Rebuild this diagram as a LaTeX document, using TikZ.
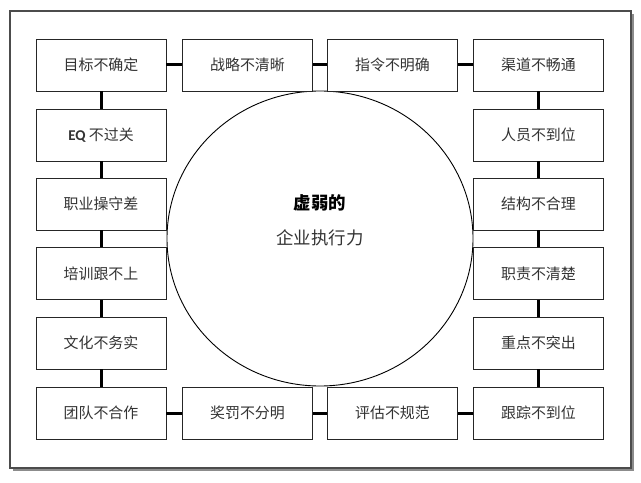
\documentclass[tikz,border=0pt]{standalone}
\usepackage{fontspec}
\newfontfamily\cjk{Noto Sans CJK SC}
\setsansfont{Carlito}
\begin{document}
\begin{tikzpicture}[x=1bp,y=-1bp,
  cell/.style={draw=black!85,line width=0.8bp,fill=white,minimum width=130bp,minimum height=52bp,inner sep=0pt,font=\cjk\fontsize{15}{18}\selectfont,text=black!80},
  link/.style={line width=3bp,black}]
\useasboundingbox (0,0) rectangle (641,483);
\fill[white] (0,0) rectangle (641,483);
% frame with shadow
\draw[black!45,line width=2.5bp] (13,470) -- (633,470) -- (633,14);
\draw[black!70,line width=1.3bp] (10,11) rectangle (631,468);
% center ellipse
\draw[line width=0.9bp] (320,238.5) ellipse [x radius=153, y radius=147.5];
% cells
\node[cell] (a1) at (101,65) {目标不确定};
\node[cell] (a2) at (247.5,65) {战略不清晰};
\node[cell] (a3) at (392.5,65) {指令不明确};
\node[cell] (a4) at (538.5,65) {渠道不畅通};
\node[cell] (l2) at (101,135) {{\sffamily\bfseries EQ} 不过关};
\node[cell] (l3) at (101,204) {职业操守差};
\node[cell] (l4) at (101,273.5) {培训跟不上};
\node[cell] (l5) at (101,343) {文化不务实};
\node[cell] (r2) at (538.5,135) {人员不到位};
\node[cell] (r3) at (538.5,204) {结构不合理};
\node[cell] (r4) at (538.5,273.5) {职责不清楚};
\node[cell] (r5) at (538.5,343) {重点不突出};
\node[cell] (b1) at (101,413) {团队不合作};
\node[cell] (b2) at (247.5,413) {奖罚不分明};
\node[cell] (b3) at (392.5,413) {评估不规范};
\node[cell] (b4) at (538.5,413) {跟踪不到位};
% connectors
\draw[link] (a1) -- (a2);
\draw[link] (a2) -- (a3);
\draw[link] (a3) -- (a4);
\draw[link] (b1) -- (b2);
\draw[link] (b2) -- (b3);
\draw[link] (b3) -- (b4);
\draw[link] (a1) -- (l2);
\draw[link] (l2) -- (l3);
\draw[link] (l3) -- (l4);
\draw[link] (l4) -- (l5);
\draw[link] (l5) -- (b1);
\draw[link] (a4) -- (r2);
\draw[link] (r2) -- (r3);
\draw[link] (r3) -- (r4);
\draw[link] (r4) -- (r5);
\draw[link] (r5) -- (b4);
% center text
\node[font=\cjk\bfseries\fontsize{17.5}{20}\selectfont] (t1) at (320,203) {虚弱的};
\node[font=\cjk\fontsize{17.5}{20}\selectfont,text=black!80] (t2) at (320,238) {企业执行力};
\end{tikzpicture}
\end{document}
